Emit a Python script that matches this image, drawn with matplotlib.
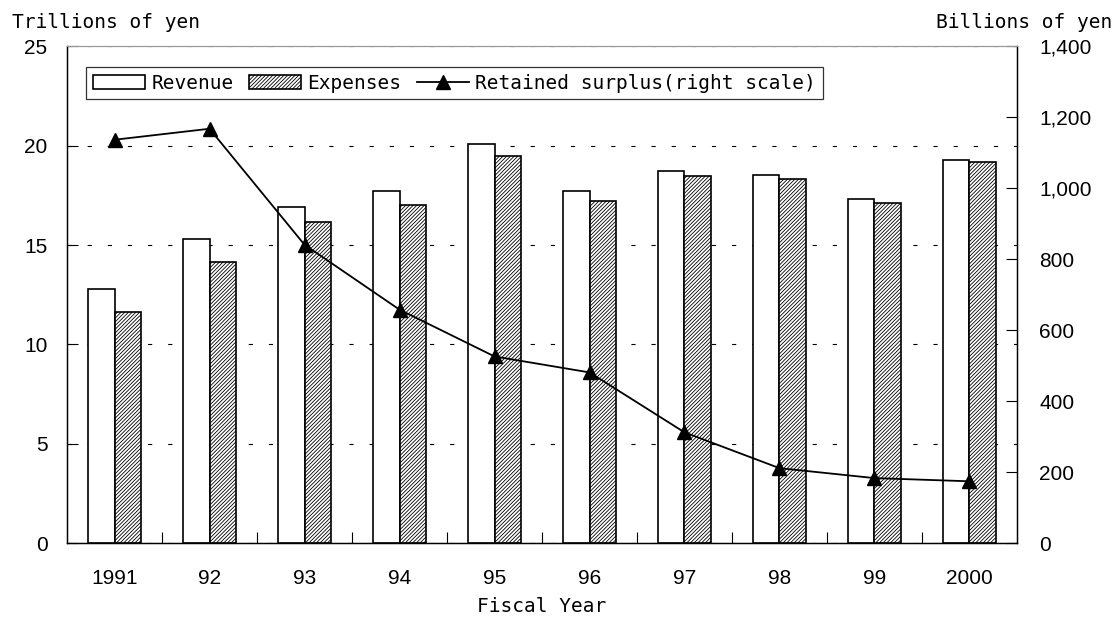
import matplotlib
matplotlib.use('Agg')
import matplotlib.pyplot as plt
from matplotlib.ticker import FuncFormatter, MultipleLocator, FixedLocator
import numpy as np

years = ['1991', '92', '93', '94', '95', '96', '97', '98', '99', '2000']
revenue = [12.78, 15.33, 16.93, 17.70, 20.09, 17.70, 18.74, 18.54, 17.30, 19.30]
expenses = [11.62, 14.17, 16.15, 17.04, 19.51, 17.24, 18.46, 18.34, 17.12, 19.20]
retained_surplus = [1137, 1168, 841, 658, 526, 481, 312, 211, 183, 174]

plt.rcParams['lines.scale_dashes'] = False
plt.rcParams['hatch.linewidth'] = 0.6
label_font = 'DejaVu Sans Mono'
tick_font = 'Liberation Sans'

fig = plt.figure(figsize=(11.15, 6.23), dpi=100)
ax = fig.add_axes([0.0601, 0.1284, 0.8520, 0.7970])

x = np.arange(len(years))
w = 0.28
b1 = ax.bar(x - w / 2, revenue, w, color='white', edgecolor='black',
            linewidth=1.2, label='Revenue', zorder=2)
b2 = ax.bar(x + w / 2, expenses, w, color='white', edgecolor='black',
            linewidth=1.2, hatch='/////////', label='Expenses', zorder=2)

ax.set_xlim(-0.5, len(years) - 0.5)
ax.set_ylim(0, 25)
ax.yaxis.set_major_locator(MultipleLocator(5))
ax.set_xticks(x)
ax.set_xticklabels(years)
ax.xaxis.set_minor_locator(FixedLocator(np.arange(0.5, len(years) - 1, 1)))
ax.tick_params(axis='x', which='major', length=0, pad=19, labelsize=15)
ax.tick_params(axis='x', which='minor', direction='in', length=8, width=0.8)
ax.tick_params(axis='y', direction='in', length=8, width=0.8, pad=14,
               labelsize=15)
for lab in ax.get_xticklabels() + ax.get_yticklabels():
    lab.set_fontfamily(tick_font)

# dashed guides at the left-scale ticks, kept behind the bars
ax.grid(axis='y', color='black', linewidth=0.8, linestyle=(0, (3, 11.5)))
ax.set_axisbelow(True)
ax.spines['top'].set_color('#999999')
for s in ['left', 'right', 'bottom']:
    ax.spines[s].set_linewidth(1.0)

ax2 = ax.twinx()
ln, = ax2.plot(x, retained_surplus, color='black', linewidth=1.3,
               marker='^', markersize=9.5, label='Retained surplus(right scale)')
ax2.set_ylim(0, 1400)
ax2.yaxis.set_major_locator(MultipleLocator(200))
ax2.yaxis.set_major_formatter(FuncFormatter(lambda v, p: f'{int(v):,}'))
ax2.tick_params(axis='y', direction='in', length=8, width=0.8, pad=16,
                labelsize=15)
for lab in ax2.get_yticklabels():
    lab.set_fontfamily(tick_font)
ax2.spines['top'].set_color('#999999')

leg = ax2.legend([b1, b2, ln], ['Revenue', 'Expenses', 'Retained surplus(right scale)'],
                 loc='upper left', bbox_to_anchor=(0.02, 0.959), borderaxespad=0,
                 ncol=3, frameon=True, fancybox=False, edgecolor='black',
                 prop={'family': label_font, 'size': 14},
                 handlelength=2.7, handleheight=0.7, handletextpad=0.3,
                 columnspacing=0.8, borderpad=0.35)
leg.get_frame().set_linewidth(0.9)

fig.text(12 / 1115, 1 - 22 / 623, 'Trillions of yen', family=label_font,
         fontsize=14, ha='left', va='center')
fig.text(1112 / 1115, 1 - 22 / 623, 'Billions of yen', family=label_font,
         fontsize=14, ha='right', va='center')
fig.text(542 / 1115, 1 - 606 / 623, 'Fiscal Year', family=label_font,
         fontsize=14, ha='center', va='center')

fig.savefig('out.png', dpi=100)
